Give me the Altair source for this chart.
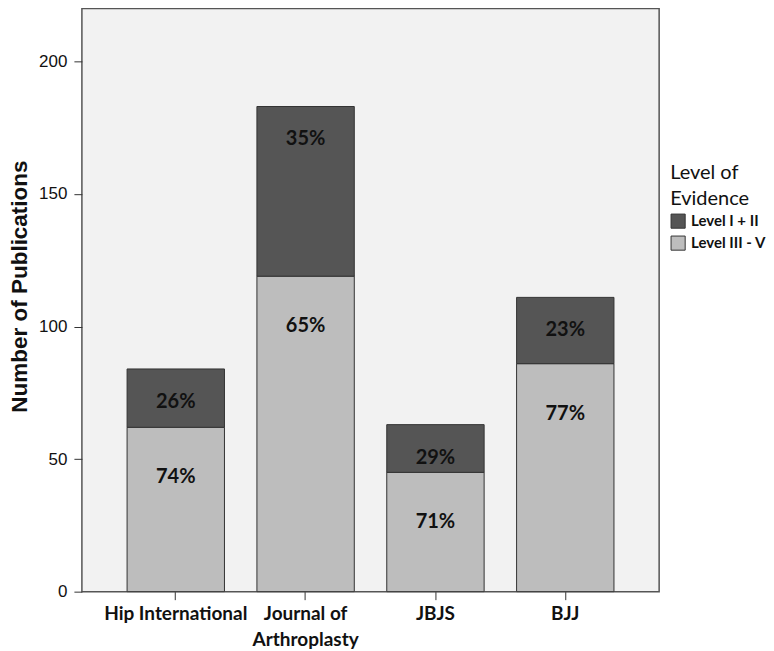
import altair as alt
import pandas as pd

journals = ["Hip International", "Journal of Arthroplasty", "JBJS", "BJJ"]
level_low = [62, 119, 45, 86]      # Level III - V
level_high = [22, 64, 18, 25]      # Level I + II
pct_low = ["74%", "65%", "71%", "77%"]
pct_high = ["26%", "35%", "29%", "23%"]
series = ["Level I + II", "Level III - V"]
y_ticks = [0, 50, 100, 150, 200]

rows = []
for j, lo, hi, pl, ph in zip(journals, level_low, level_high, pct_low, pct_high):
    rows.append({"journal": j, "level": series[1], "y0": 0, "y1": lo, "pct": pl})
    rows.append({"journal": j, "level": series[0], "y0": lo, "y1": lo + hi, "pct": ph})
df = pd.DataFrame(rows)

x_enc = alt.X(
    "journal:N",
    sort=journals,
    title=None,
    scale=alt.Scale(paddingInner=0.25, paddingOuter=0.348),
    axis=alt.Axis(
        labelAngle=0,
        labelFont="Lato",
        labelFontWeight="bold",
        labelFontSize=19,
        labelColor="#111111",
        labelPadding=5,
        labelLineHeight=26,
        labelExpr="datum.label == 'Journal of Arthroplasty' ? ['Journal of', 'Arthroplasty'] : datum.label",
        tickSize=8,
        tickColor="#333333",
        domain=False,
    ),
)

y_scale = alt.Scale(domain=[0, 220], nice=False)

bars = alt.Chart(df).mark_bar(stroke="#333333", strokeWidth=1).encode(
    x=x_enc,
    y=alt.Y(
        "y0:Q",
        scale=y_scale,
        title="Number of Publications",
        axis=alt.Axis(
            values=y_ticks,
            grid=False,
            domain=False,
            tickSize=8,
            tickColor="#333333",
            labelFont="Liberation Sans",
            labelFontSize=17,
            labelColor="#111111",
            labelPadding=7,
            titleFont="Liberation Sans",
            titleFontSize=22.5,
            titleFontWeight="bold",
            titleColor="#111111",
            titlePadding=7,
            titleY=278,
        ),
    ),
    y2="y1:Q",
    color=alt.Color(
        "level:N",
        scale=alt.Scale(domain=series, range=["#555555", "#bdbdbd"]),
        legend=alt.Legend(
            title=["Level of", "Evidence"],
            orient="none",
            legendX=589,
            legendY=155,
            titleFont="Lato",
            titleFontSize=20,
            titleFontWeight="normal",
            titleColor="#111111",
            titleLineHeight=26,
            titlePadding=4,
            labelFont="Lato",
            labelFontSize=15,
            labelFontWeight="bold",
            labelColor="#111111",
            symbolType="square",
            symbolSize=200,
            symbolStrokeColor="#333333",
            symbolStrokeWidth=1,
            rowPadding=2,
            labelOffset=5,
        ),
    ),
)

text_style = dict(font="Lato", fontSize=20, fontWeight="bold", color="#111111", baseline="middle", align="center")

text_low = alt.Chart(df).transform_filter(
    alt.datum.level == series[1]
).mark_text(dy=50, **text_style).encode(
    x=alt.X("journal:N", sort=journals),
    y=alt.Y("y1:Q", scale=y_scale),
    text="pct:N",
)

text_high = alt.Chart(df).transform_filter(
    alt.datum.level == series[0]
).mark_text(dy=33, **text_style).encode(
    x=alt.X("journal:N", sort=journals),
    y=alt.Y("y1:Q", scale=y_scale),
    text="pct:N",
)

chart = alt.layer(bars, text_low, text_high).properties(
    width=578,
    height=584,
    padding={"left": 0, "top": 0, "right": 0, "bottom": 0},
    background="white",
).configure_view(fill="#f2f2f2", stroke="#555555", strokeWidth=1.5)

chart.save("out.html", embed_options={"renderer": "svg", "actions": False})
